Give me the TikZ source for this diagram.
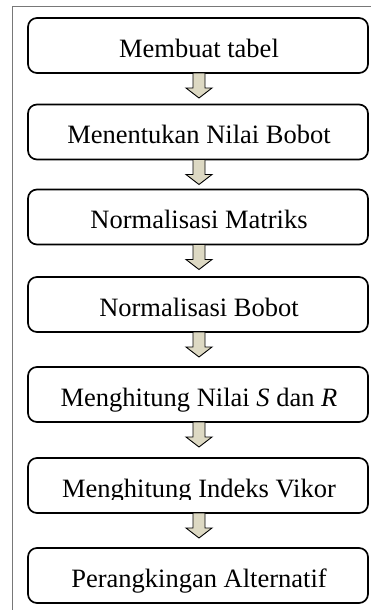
\documentclass[tikz,border=0pt]{standalone}
\usepackage{fontspec}
\setmainfont{Liberation Serif}
\usetikzlibrary{calc}
\definecolor{arrowfill}{RGB}{221,217,195}
\definecolor{framegray}{RGB}{120,120,120}
\begin{document}
\begin{tikzpicture}[x=1pt,y=-1pt,
  box/.style={draw,line width=1.7pt,rounded corners=9pt,minimum width=340pt,minimum height=55pt,inner sep=0pt,outer sep=0pt},
  lbl/.style={anchor=base,inner sep=0pt,font=\fontsize{26.5}{31}\selectfont},
  blockarr/.style={draw,line width=0.9pt,fill=arrowfill,line join=miter}]
\useasboundingbox (0,0) rectangle (371,610);
\draw[framegray,line width=1pt] (12,610) -- (12,6.5) -- (371,6.5);
% boxes
\node[box] (b1) at (198,45.5) {};
\node[box] (b2) at (198,132) {};
\node[box] (b3) at (198,217) {};
\node[box] (b4) at (198,304.5) {};
\node[box] (b5) at (198,394.5) {};
\node[box] (b6) at (198,485.5) {};
\node[box] (b7) at (198,575.5) {};
% labels
\node[lbl] (t1) at ($(b1.north)+(1,39)$) {Membuat tabel};
\node[lbl] (t2) at ($(b2.north)+(1,39)$) {Menentukan Nilai Bobot};
\node[lbl] (t3) at ($(b3.north)+(1,39)$) {Normalisasi Matriks};
\node[lbl] (t4) at ($(b4.north)+(1,39)$) {Normalisasi Bobot};
\node[lbl] (t5) at ($(b5.north)+(1,39)$) {Menghitung Nilai \textit{S} dan \textit{R}};
\begin{scope}
\clip (28,458) rectangle (368,499);
\node[lbl] (t6) at ($(b6.north)+(1,39)$) {Menghitung Indeks Vikor};
\end{scope}
\node[lbl] (t7) at ($(b7.north)+(1,39)$) {Perangkingan Alternatif};
% block arrows
\foreach \a in {b1,b2,b3,b4,b5,b6}{
  \draw[blockarr] ($(\a.south)+(1,0)$) ++(-6,0) -- ++(0,15) -- ++(-7,0) -- ++(13,10) -- ++(13,-10) -- ++(-7,0) -- ++(0,-15) -- cycle;
}
\end{tikzpicture}
\end{document}
